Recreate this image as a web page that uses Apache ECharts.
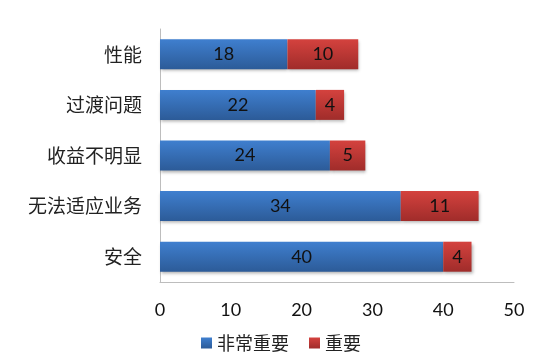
<!DOCTYPE html>
<html><head><meta charset="utf-8">
<script src="https://cdn.jsdelivr.net/npm/echarts@6/dist/echarts.min.js"></script>
<style>html,body{margin:0;padding:0;background:#fff}#c{width:559px;height:360px}</style>
</head><body><div id="c"></div>
<script>
var categories = ['安全','无法适应业务','收益不明显','过渡问题','性能'];
var veryImportant = [40,34,24,22,18];
var important = [4,11,5,4,10];
var seriesNames = ['非常重要','重要'];
var xTicks = [0,10,20,30,40,50];

var cjk = '"Noto Sans CJK SC", sans-serif';
var num = 'Lato, "Noto Sans", sans-serif';
function grad(a,b){return new echarts.graphic.LinearGradient(0,0,0,1,[{offset:0,color:a},{offset:1,color:b}]);}
var chart = echarts.init(document.getElementById('c'));
chart.setOption({
  animation:false,
  grid:{left:160,right:45,top:29,bottom:78},
  legend:{top:329,left:196,itemWidth:11,itemHeight:11,itemGap:20,icon:'rect',
    textStyle:{fontFamily:cjk,fontSize:18,color:'#222'},data:seriesNames},
  xAxis:{type:'value',min:xTicks[0],max:xTicks[xTicks.length-1],interval:10,
    axisLine:{show:true,lineStyle:{color:'#bdbdbd',width:1}},axisTick:{show:false},splitLine:{show:false},
    axisLabel:{fontFamily:num,fontSize:18,color:'#111',margin:19}},
  yAxis:{type:'category',data:categories,
    axisLine:{show:true,lineStyle:{color:'#bdbdbd',width:1}},axisTick:{show:false},
    axisLabel:{fontFamily:cjk,fontSize:19,color:'#222',margin:18}},
  series:[
    {name:seriesNames[0],type:'bar',stack:'s',data:veryImportant,barWidth:30,
      itemStyle:{color:grad('#3f7fcf','#2c5b98'),shadowColor:'rgba(0,0,0,0.3)',shadowBlur:3,shadowOffsetX:1,shadowOffsetY:2},
      label:{show:true,position:'inside',fontFamily:num,fontSize:18,color:'#111'}},
    {name:seriesNames[1],type:'bar',stack:'s',data:important,barWidth:30,
      itemStyle:{color:grad('#d4423e','#a02c2a'),shadowColor:'rgba(0,0,0,0.3)',shadowBlur:3,shadowOffsetX:1,shadowOffsetY:2},
      label:{show:true,position:'inside',fontFamily:num,fontSize:18,color:'#111'}}
  ]
});
</script></body></html>
